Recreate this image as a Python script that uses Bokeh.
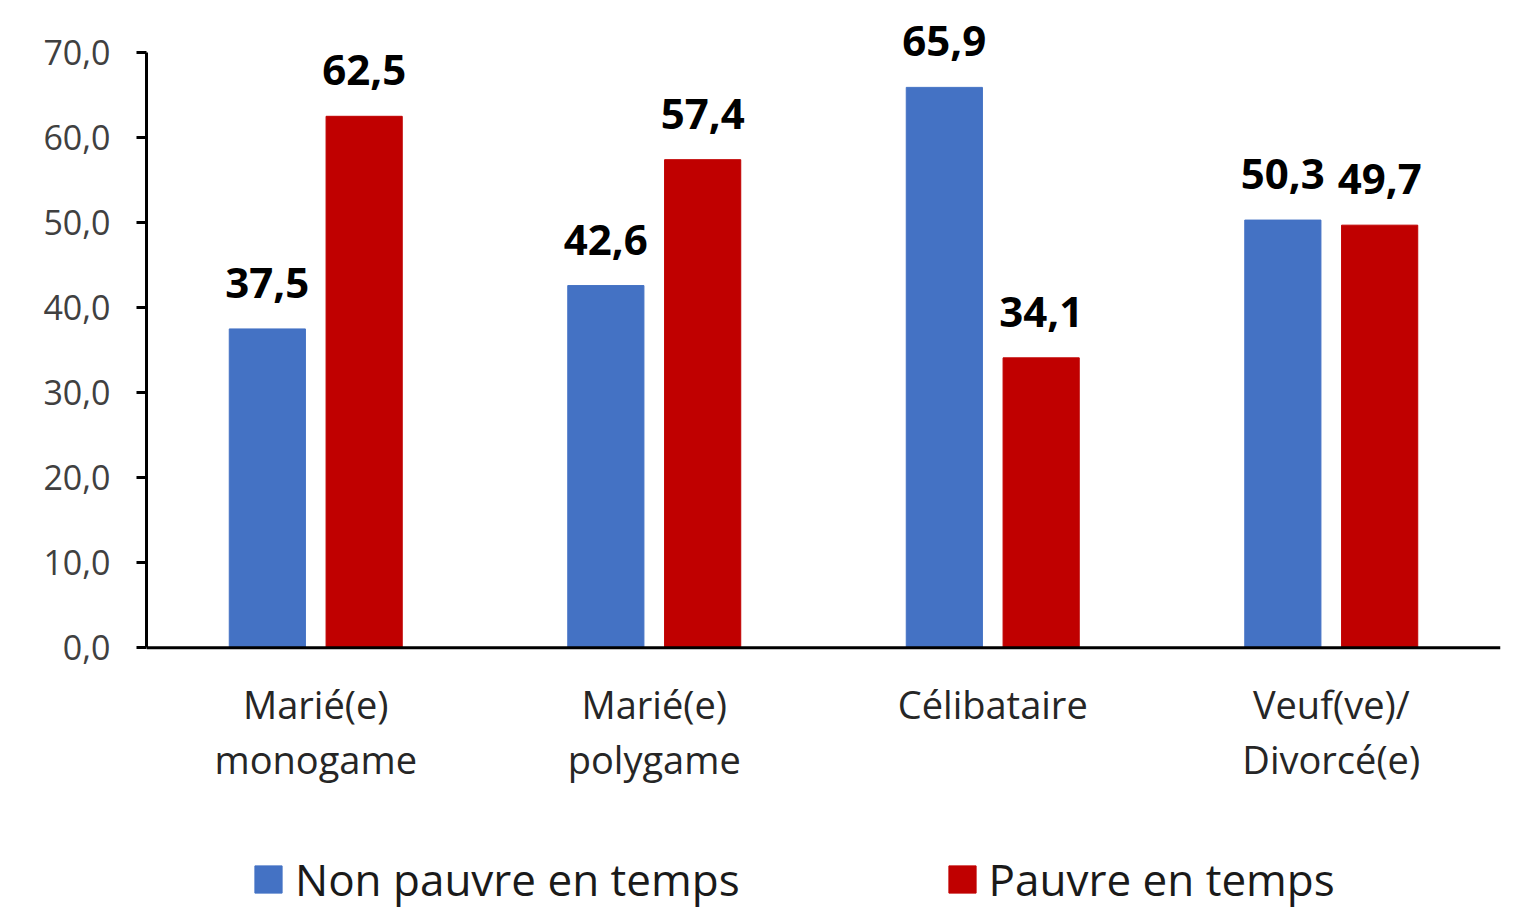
from bokeh.plotting import figure
from bokeh.models import (ColumnDataSource, Range1d, FixedTicker, Span,
                          Legend, LegendItem)
from bokeh.transform import dodge
from bokeh.core.properties import value
from bokeh.embed import file_html
from bokeh.resources import INLINE

categories = ["Marié(e) monogame", "Marié(e) polygame", "Célibataire", "Veuf(ve)/ Divorcé(e)"]
category_line1 = ["Marié(e)", "Marié(e)", "Célibataire", "Veuf(ve)/"]
category_line2 = ["monogame", "polygame", "", "Divorcé(e)"]
non_pauvre = [37.5, 42.6, 65.9, 50.3]
pauvre = [62.5, 57.4, 34.1, 49.7]
series_names = ["Non pauvre en temps", "Pauvre en temps"]
y_ticks = [0, 10, 20, 30, 40, 50, 60, 70]
y_tick_labels = ["0,0", "10,0", "20,0", "30,0", "40,0", "50,0", "60,0", "70,0"]

BLUE = "#4472C4"
RED = "#C00000"
FONT = "Open Sans"

def fmt(v):
    return f"{v:.1f}".replace(".", ",")

n = len(categories)
src = ColumnDataSource(dict(
    xc=[i + 0.5 for i in range(n)],
    zero=[0] * n,
    cat=categories,
    l1=category_line1,
    l2=category_line2,
    a=non_pauvre,
    b=pauvre,
    a_lbl=[fmt(v) for v in non_pauvre],
    b_lbl=[fmt(v) for v in pauvre],
))

p = figure(x_range=Range1d(0, n), y_range=Range1d(-31, 74),
           width=1522, height=911, x_axis_location=None,
           output_backend="svg", toolbar_location=None,
           min_border_left=146, min_border_right=22, min_border_top=18,
           min_border_bottom=0)

r1 = p.vbar(x=dodge("xc", -0.143), top="a", width=0.225,
            source=src, fill_color=BLUE, line_color=BLUE)
r2 = p.vbar(x=dodge("xc", 0.143), top="b", width=0.225,
            source=src, fill_color=RED, line_color=RED)

# value labels
for col, off in (("a", -0.143), ("b", 0.143)):
    p.text(x=dodge("xc", off), y=col, text=col + "_lbl",
           source=src, text_align="center", text_baseline="alphabetic",
           y_offset=-46, text_font=value(FONT), text_font_size="42px",
           text_font_style="bold", text_color="black")

# category labels (two lines)
for col, off in (("l1", 56), ("l2", 111)):
    p.text(x="xc", y="zero", text=col, source=src,
           text_align="center", text_baseline="alphabetic", y_offset=off,
           text_font=value(FONT), text_font_size="38px", text_color="#262626")

# x axis line
p.add_layout(Span(location=0, dimension="width", line_color="black", line_width=3))

p.xgrid.visible = False
p.ygrid.visible = False
p.outline_line_color = None

# y axis
ya = p.yaxis[0]
ya.ticker = FixedTicker(ticks=y_ticks)
ya.major_label_overrides = {t: l for t, l in zip(y_ticks, y_tick_labels)}
ya.bounds = (0, 70)
ya.axis_line_width = 3
ya.axis_line_color = "black"
ya.major_tick_line_width = 3
ya.major_tick_line_color = "black"
ya.major_tick_out = 10
ya.major_tick_in = 0
ya.minor_tick_line_color = None
ya.major_label_text_font = FONT
ya.major_label_text_font_size = "34px"
ya.major_label_text_color = "#404040"
ya.major_label_standoff = 26

legend = Legend(items=[LegendItem(label=series_names[0], renderers=[r1]),
                       LegendItem(label=series_names[1], renderers=[r2])],
                orientation="horizontal", location=(105, 2),
                label_text_font=FONT, label_text_font_size="44px",
                label_text_color="#1a1a1a",
                glyph_width=34, glyph_height=34, label_standoff=10,
                spacing=205, padding=2, margin=0,
                border_line_color=None, background_fill_alpha=0)
p.add_layout(legend, "center")

open("out.html", "w").write(file_html(p, INLINE))
